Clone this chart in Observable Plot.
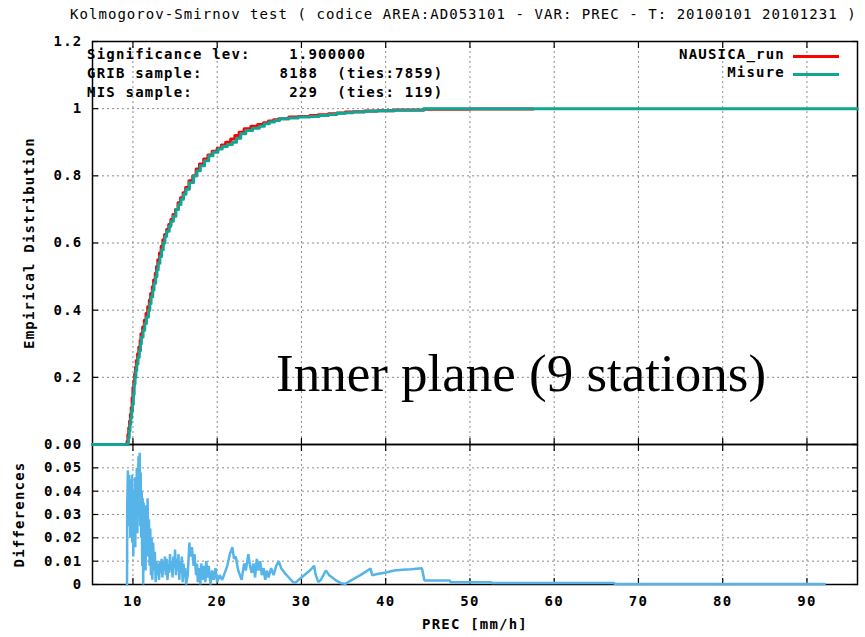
<!DOCTYPE html>
<html>
<head>
<meta charset="utf-8">
<script src="https://cdn.jsdelivr.net/npm/d3@7"></script>
<script src="https://cdn.jsdelivr.net/npm/@observablehq/plot@0.6"></script>
<style>
  html, body { margin: 0; padding: 0; background: #fff; }
  #chart { position: relative; width: 865px; height: 637px; overflow: hidden; background: #fff; }
  #chart > div.panel { position: absolute; left: 0; }
  .mono { font-family: "DejaVu Sans Mono", monospace; font-size: 14px; letter-spacing: 1.2px; white-space: pre; color: #000; position: absolute; line-height: 1; }
  .bold { font-weight: bold; }
  .swatch { position: absolute; height: 3px; width: 46px; }
  .note { position: absolute; font-family: "Liberation Serif", "Times New Roman", serif; font-size: 53px; color: #000; white-space: pre; line-height: 1; }
</style>
</head>
<body>
<div id="chart"></div>
<script>
// ---- chart texts ----
const titleText = "Kolmogorov-Smirnov test ( codice AREA:AD053101 - VAR: PREC - T: 20100101 20101231 )";
const infoLines = [
  "Significance lev:    1.900000",
  "GRIB sample:        8188  (ties:7859)",
  "MIS sample:          229  (ties: 119)"
];
const seriesNames = ["NAUSICA_run", "Misure"];
const seriesColors = ["#ff0000", "#12a594"];
const diffColor = "#56b4e9";
const noteText = "Inner plane (9 stations)";

// ---- axes ----
const xDomain = [5.2, 96];
const xTicks = [10, 20, 30, 40, 50, 60, 70, 80, 90];
const yTicksTop = [0, 0.2, 0.4, 0.6, 0.8, 1, 1.2];
const yTicksBottom = [0, 0.01, 0.02, 0.03, 0.04, 0.05, 0.06];
const yLabelsBottom = [0, 0.01, 0.02, 0.03, 0.04, 0.05];

// ---- empirical distribution of the model run (GRIB) ----
const runX = [5.2, 9.3, 9.4, 9.5, 9.6, 9.7, 9.8, 9.9, 10.0, 10.1, 10.2, 10.3, 10.4, 10.55, 10.7, 10.85, 10.95, 11.15, 11.35, 11.55, 11.75, 11.95, 12.1, 12.3, 12.45, 12.65, 12.8, 12.95, 13.15, 13.35, 13.55, 13.75, 14.0, 14.25, 14.5, 14.75, 15.05, 15.35, 15.65, 15.95, 16.25, 16.65, 17.1, 17.5, 17.9, 18.4, 18.9, 19.4, 20.0, 20.5, 21.0, 21.6, 22.1, 22.6, 23.2, 24.0, 24.8, 25.5, 26.1, 26.7, 27.3, 28.5, 29.6, 31.0, 32.0, 33.2, 34.2, 35.2, 36.1, 37.5, 39.0, 41.0, 44.5, 50.0, 57.5];
const runF = [0, 0.01, 0.03, 0.05, 0.07, 0.09, 0.11, 0.14, 0.17, 0.19, 0.21, 0.23, 0.25, 0.27, 0.29, 0.31, 0.33, 0.35, 0.37, 0.39, 0.41, 0.43, 0.45, 0.47, 0.49, 0.51, 0.53, 0.55, 0.57, 0.59, 0.61, 0.625, 0.64, 0.655, 0.67, 0.685, 0.70, 0.72, 0.735, 0.75, 0.765, 0.785, 0.80, 0.82, 0.835, 0.85, 0.862, 0.873, 0.882, 0.892, 0.90, 0.91, 0.92, 0.93, 0.94, 0.948, 0.953, 0.958, 0.963, 0.967, 0.97, 0.975, 0.977, 0.98, 0.982, 0.985, 0.987, 0.99, 0.991, 0.993, 0.994, 0.996, 0.998, 0.999, 0.999];

// ---- empirical distribution of the measurements ----
const misX = [5.2, 9.4, 9.45, 9.55, 9.65, 9.75, 9.85, 9.95, 10.05, 10.15, 10.25, 10.35, 10.45, 10.6, 10.75, 10.9, 11.0, 11.2, 11.4, 11.6, 11.85, 12.0, 12.15, 12.35, 12.5, 12.7, 12.85, 13.0, 13.2, 13.4, 13.6, 13.8, 14.0, 14.3, 14.5, 14.8, 15.1, 15.4, 15.7, 16.0, 16.3, 16.7, 17.2, 17.6, 18.0, 18.5, 19.0, 19.5, 20.1, 20.6, 21.2, 21.8, 22.3, 22.8, 23.4, 24.2, 25.0, 25.6, 26.2, 26.8, 27.4, 28.5, 29.6, 31.0, 32.1, 33.2, 34.2, 35.2, 36.1, 37.5, 39.0, 41.0, 44.5, 96];
const misF = [0, 0.004, 0.02, 0.04, 0.06, 0.08, 0.10, 0.12, 0.15, 0.18, 0.20, 0.22, 0.24, 0.26, 0.28, 0.30, 0.32, 0.34, 0.36, 0.38, 0.40, 0.42, 0.44, 0.46, 0.48, 0.50, 0.52, 0.54, 0.56, 0.58, 0.60, 0.62, 0.635, 0.65, 0.665, 0.68, 0.70, 0.715, 0.73, 0.745, 0.76, 0.78, 0.80, 0.815, 0.83, 0.845, 0.86, 0.87, 0.88, 0.887, 0.893, 0.90, 0.912, 0.925, 0.935, 0.942, 0.948, 0.955, 0.96, 0.965, 0.97, 0.972, 0.975, 0.977, 0.98, 0.983, 0.986, 0.988, 0.99, 0.992, 0.994, 0.995, 1.0, 1.0];

// ---- absolute differences between the two distributions ----
const diffX = [9.30, 9.32, 9.40, 9.45, 9.50, 9.55, 9.62, 9.68, 9.75, 9.80, 9.86, 9.92, 9.98, 10.04, 10.10, 10.16, 10.22, 10.28, 10.34, 10.40, 10.46, 10.52, 10.60, 10.66, 10.72, 10.80, 10.86, 10.92, 10.98, 11.04, 11.10, 11.16, 11.22, 11.28, 11.34, 11.42, 11.50, 11.58, 11.66, 11.74, 11.82, 11.90, 11.98, 12.06, 12.14, 12.22, 12.30, 12.40, 12.50, 12.60, 12.70, 12.80,
  12.9, 13.0, 13.1, 13.2, 13.3, 13.4, 13.5, 13.6, 13.7, 13.8, 13.9, 14.0, 14.1, 14.2, 14.3, 14.4, 14.5, 14.6, 14.7, 14.8, 14.9, 15.0, 15.1, 15.2, 15.3, 15.4, 15.5, 15.6, 15.7, 15.8, 15.9, 16.0, 16.1, 16.2, 16.3,
  16.5, 16.7, 16.8, 17.0, 17.2, 17.3, 17.5, 17.6, 17.7, 17.9, 18.0, 18.1, 18.3, 18.4, 18.6, 18.7, 18.9, 19.0, 19.2, 19.4, 19.6, 19.8, 20.0, 20.3, 20.6, 20.9, 21.2, 21.5, 21.8, 22.0, 22.2, 22.5, 22.7, 22.9, 23.2, 23.4, 23.7, 23.9, 24.1, 24.3, 24.5, 24.7, 24.9, 25.1, 25.3, 25.5, 25.7, 25.9, 26.1, 26.4, 26.7, 27.0, 27.3, 27.6, 28.0, 28.5, 29.0, 29.3, 30.0, 31.0, 31.5, 31.7, 32.0, 32.3, 32.9, 33.3, 34.0, 34.7, 35.2, 36.0, 37.0, 38.2, 38.4, 39.0, 39.9, 41.0, 42.0, 43.0, 44.3, 44.6, 47.6, 47.7, 52.5, 52.6, 67.1, 67.2, 92.1];
const diffD = [0, 0.033, 0.049, 0.025, 0.047, 0.030, 0.044, 0.020, 0.045, 0.028, 0.047, 0.018, 0.040, 0.012, 0.038, 0.026, 0.046, 0.016, 0.042, 0.030, 0.050, 0.022, 0.041, 0.055, 0.030, 0.0565, 0.025, 0.048, 0.020, 0.040, 0.008, 0.037, 0.0, 0.035, 0.010, 0.030, 0.006, 0.034, 0.015, 0.037, 0.012, 0.028, 0.008, 0.024, 0.004, 0.020, 0.002, 0.018, 0.006, 0.014, 0.001, 0.010,
  0.004, 0.009, 0.002, 0.010, 0.005, 0.011, 0.003, 0.010, 0.006, 0.012, 0.004, 0.011, 0.002, 0.009, 0.005, 0.013, 0.006, 0.010, 0.003, 0.012, 0.007, 0.015, 0.004, 0.011, 0.006, 0.013, 0.002, 0.010, 0.005, 0.012, 0.001, 0.009, 0.003, 0.007, 0.0,
  0.004, 0.018, 0.012, 0.016, 0.008, 0.013, 0.004, 0.009, 0.001, 0.007, 0.0, 0.009, 0.002, 0.008, 0.001, 0.010, 0.003, 0.008, 0.0, 0.006, 0.002, 0.007, 0.001, 0.004, 0.002, 0.005, 0.008, 0.013, 0.016, 0.011, 0.012, 0.006, 0.004, 0.002, 0.009, 0.006, 0.013, 0.008, 0.005, 0.009, 0.003, 0.011, 0.006, 0.010, 0.004, 0.007, 0.002, 0.006, 0.003, 0.007, 0.004, 0.008, 0.010, 0.007, 0.005, 0.003, 0.001, 0.0008, 0.003, 0.006, 0.008, 0.004, 0.001, 0.002, 0.006, 0.004, 0.002, 0.0005, 0.0003, 0.002, 0.004, 0.0068, 0.004, 0.0045, 0.005, 0.006, 0.0063, 0.0065, 0.007, 0.0017, 0.0017, 0.001, 0.001, 0.0006, 0.0006, 0.0002, 0.0002];

const run = runX.map((x, i) => ({x, f: runF[i]}));
const mis = misX.map((x, i) => ({x, f: misF[i]}));
const diff = diffX.map((x, i) => ({x, d: diffD[i]}));

const W = 865, mL = 92, mR = 8;
const plotStyle = {
  fontFamily: "'DejaVu Sans Mono', monospace",
  fontSize: "14px",
  fontWeight: "bold",
  letterSpacing: "1.2px",
  background: "transparent",
  overflow: "visible",
  color: "#000"
};
const gridStyle = {stroke: "#8a8a8a", strokeOpacity: 1, strokeWidth: 1, strokeDasharray: "2,3"};

// inward tick marks on all four sides of a panel
function innerTicks(yTicks) {
  return [
    Plot.axisX(xTicks, {anchor: "bottom", tickSize: -6, fill: "none", label: null, strokeWidth: 1.2}),
    Plot.axisX(xTicks, {anchor: "top", tickSize: -6, fill: "none", label: null, strokeWidth: 1.2}),
    Plot.axisY(yTicks, {anchor: "left", tickSize: -6, fill: "none", label: null, strokeWidth: 1.2}),
    Plot.axisY(yTicks, {anchor: "right", tickSize: -6, fill: "none", label: null, strokeWidth: 1.2})
  ];
}

// upper panel: empirical distributions
const cdfPanel = Plot.plot({
  width: W, height: 445,
  marginLeft: mL, marginRight: mR, marginTop: 41, marginBottom: 1,
  style: plotStyle,
  x: {domain: xDomain},
  y: {domain: [0, 1.2]},
  marks: [
    Plot.gridX(xTicks, gridStyle),
    Plot.gridY(yTicksTop.slice(1, -1), gridStyle),
    Plot.frame({stroke: "#000", strokeWidth: 1.5}),
    ...innerTicks(yTicksTop),
    Plot.line(run, {x: "x", y: "f", curve: "step-after", stroke: seriesColors[0], strokeWidth: 3}),
    Plot.line(mis, {x: "x", y: "f", curve: "step-after", stroke: seriesColors[1], strokeWidth: 3}),
    Plot.axisY(yTicksTop, {
      anchor: "left", tickSize: 0, tickPadding: 10,
      tickFormat: d => d === 0 ? "0.00" : d === 1 ? "1" : d.toFixed(1),
      label: "Empirical Distribution", labelAnchor: "center", labelArrow: "none", labelOffset: 68
    })
  ]
});

// lower panel: differences
const diffPanel = Plot.plot({
  width: W, height: 194,
  marginLeft: mL, marginRight: mR, marginTop: 1, marginBottom: 53,
  style: plotStyle,
  x: {domain: xDomain},
  y: {domain: [0, 0.06]},
  marks: [
    Plot.gridX(xTicks, gridStyle),
    Plot.gridY(yLabelsBottom.slice(1), gridStyle),
    Plot.frame({stroke: "#000", strokeWidth: 1.5}),
    ...innerTicks(yTicksBottom),
    Plot.line(diff, {x: "x", y: "d", stroke: diffColor, strokeWidth: 2.5, strokeLinejoin: "miter"}),
    Plot.axisY(yLabelsBottom, {
      anchor: "left", tickSize: 0, tickPadding: 10,
      tickFormat: d => d === 0 ? "0" : d.toFixed(2),
      label: "Differences", labelAnchor: "center", labelArrow: "none", labelOffset: 78
    }),
    Plot.axisX(xTicks, {
      anchor: "bottom", tickSize: 0, tickPadding: 12,
      label: "PREC [mm/h]", labelAnchor: "center", labelArrow: "none", labelOffset: 44
    })
  ]
});

const chart = document.getElementById("chart");
const p1 = document.createElement("div"); p1.className = "panel"; p1.style.top = "0px"; p1.appendChild(cdfPanel);
const p2 = document.createElement("div"); p2.className = "panel"; p2.style.top = "443px"; p2.appendChild(diffPanel);
chart.appendChild(p2);
chart.appendChild(p1);

function addText(text, cls, css) {
  const el = document.createElement("div");
  el.className = cls;
  el.textContent = text;
  Object.assign(el.style, css);
  chart.appendChild(el);
  return el;
}

// title
addText(titleText, "mono", {left: "70px", top: "7px", letterSpacing: "1.05px"});

// statistics box
infoLines.forEach((t, i) => addText(t, "mono bold", {left: "87px", top: (47 + i * 19) + "px"}));

// legend
seriesNames.forEach((name, i) => {
  addText(name, "mono bold", {right: (865 - 785) + "px", top: (47 + i * 18) + "px"});
  const sw = document.createElement("div");
  sw.className = "swatch";
  Object.assign(sw.style, {left: "793px", top: (55 + i * 18) + "px", background: seriesColors[i]});
  chart.appendChild(sw);
});

// annotation
addText(noteText, "note", {left: "276px", top: "347px"});
</script>
</body>
</html>
